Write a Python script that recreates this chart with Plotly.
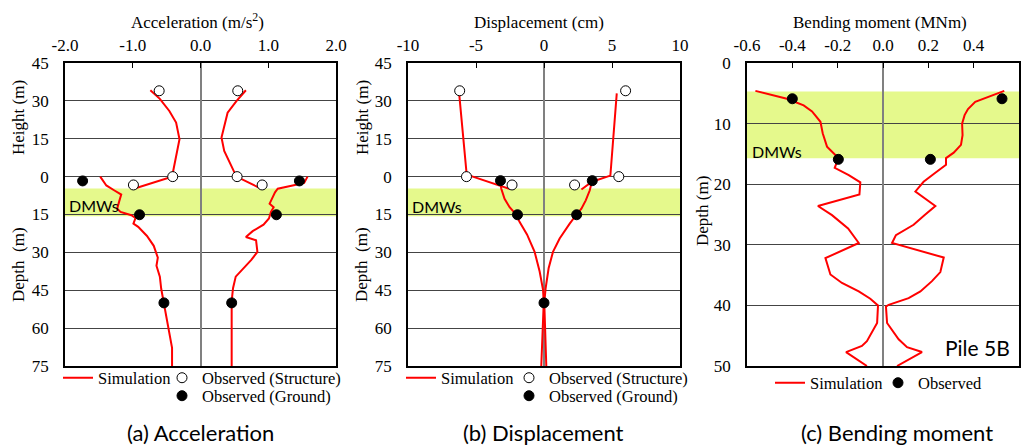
import plotly.graph_objects as go

W, H = 1028, 448

# ---------------- data: (a) acceleration (m/s2) vs height (m, negative = depth) ----------------
acc_str_neg_h = [34.2, 30.8, 26.0, 21.4, 14.8, 12.2, 6.9, 0.0, -4.6]
acc_str_neg_x = [-0.74, -0.60, -0.46, -0.36, -0.31, -0.33, -0.37, -0.42, -0.96]
acc_str_pos_h = [34.2, 29.9, 25.3, 15.5, 10.2, 4.3, 0.0, -4.6]
acc_str_pos_x = [0.67, 0.53, 0.40, 0.31, 0.35, 0.45, 0.53, 0.88]
acc_gnd_neg_h = [0.0, -3.5, -5.5, -7.1, -9.8, -12.7, -14.0, -15.3, -16.4, -18.6, -19.9,
                 -23.5, -27.4, -32.1, -35.3, -39.6, -44.4, -50.1, -56.0, -63.8, -67.8, -75.0]
acc_gnd_neg_x = [-1.48, -1.39, -1.27, -1.17, -1.20, -1.23, -1.18, -1.02, -0.96, -0.99, -0.92,
                 -0.79, -0.69, -0.63, -0.65, -0.60, -0.58, -0.54, -0.50, -0.44, -0.42, -0.42]
acc_gnd_pos_h = [0.0, -2.5, -3.5, -4.8, -6.2, -8.1, -10.7, -12.1, -14.0, -16.6, -19.0,
                 -21.6, -23.9, -25.2, -29.8, -33.0, -36.6, -39.6, -44.2, -49.4, -75.0]
acc_gnd_pos_x = [1.58, 1.53, 1.36, 1.14, 1.10, 1.07, 1.02, 1.08, 1.04, 1.01, 0.93,
                 0.77, 0.67, 0.82, 0.84, 0.75, 0.62, 0.52, 0.48, 0.46, 0.46]
acc_obs_str_h = [34.0, 34.0, 0.0, 0.0, -3.3, -3.3]
acc_obs_str_x = [-0.61, 0.55, -0.41, 0.54, -0.99, 0.91]
acc_obs_gnd_h = [-1.7, -1.7, -15.1, -15.1, -50.0, -50.0]
acc_obs_gnd_x = [-1.74, 1.46, -0.90, 1.12, -0.54, 0.46]

# ---------------- data: (b) displacement (cm) ----------------
dis_str_neg_h = [33.0, 1.1, 0.4, -4.9]
dis_str_neg_x = [-6.24, -5.69, -5.45, -2.50]
dis_str_pos_h = [33.0, 0.4, -2.0, -5.1]
dis_str_pos_x = [5.35, 4.88, 3.53, 2.75]
dis_gnd_neg_h = [-2.0, -4.8, -8.8, -12.1, -14.7, -18.0, -22.9, -29.8, -37.6, -44.8, -49.9, -62.5, -75.0]
dis_gnd_neg_x = [-3.21, -3.14, -2.90, -2.53, -2.09, -1.79, -1.25, -0.69, -0.32, -0.07, -0.02, -0.12, -0.20]
dis_gnd_pos_h = [-2.9, -5.5, -9.4, -12.7, -15.1, -18.6, -24.5, -29.8, -36.3, -44.2, -49.9, -62.5, -75.0]
dis_gnd_pos_x = [3.48, 3.36, 3.07, 2.75, 2.38, 1.89, 1.15, 0.66, 0.34, 0.12, 0.02, 0.07, 0.17]
dis_obs_str_h = [34.0, 34.0, 0.0, 0.0, -3.3, -3.3]
dis_obs_str_x = [-6.2, 6.0, -5.7, 5.5, -2.35, 2.25]
dis_obs_gnd_h = [-1.6, -1.6, -15.1, -15.1, -50.0]
dis_obs_gnd_x = [-3.2, 3.55, -1.95, 2.4, 0.0]

# ---------------- data: (c) bending moment (MNm) vs depth (m) ----------------
bm_neg_d = [4.6, 5.3, 5.9, 7.0, 8.0, 9.7, 11.6, 13.8, 15.2, 16.3, 17.3, 18.5, 19.7, 21.7, 23.6,
            25.1, 26.2, 27.3, 29.7, 32.2, 34.9, 36.3, 37.7, 38.9, 40.0, 42.9, 45.9, 46.7, 47.7, 48.9, 50.0]
bm_neg_x = [-0.563, -0.482, -0.424, -0.350, -0.313, -0.276, -0.266, -0.247, -0.210, -0.203, -0.213,
            -0.151, -0.100, -0.104, -0.287, -0.225, -0.188, -0.154, -0.107, -0.254, -0.232, -0.181,
            -0.107, -0.056, -0.022, -0.026, -0.071, -0.093, -0.163, -0.115, -0.071]
bm_pos_d = [4.6, 5.8, 6.4, 7.6, 8.6, 10.0, 11.9, 13.5, 14.8, 15.7, 16.8, 18.2, 19.6, 21.2, 23.6,
            25.1, 26.7, 28.4, 29.7, 32.1, 34.5, 36.0, 37.7, 38.8, 39.9, 40.2, 42.9, 45.6, 46.9, 47.7, 49.1, 50.0]
bm_pos_x = [0.535, 0.451, 0.407, 0.375, 0.360, 0.349, 0.351, 0.344, 0.312, 0.278, 0.278, 0.228,
            0.179, 0.143, 0.231, 0.184, 0.135, 0.057, 0.040, 0.268, 0.253, 0.216, 0.165, 0.113,
            0.025, 0.013, 0.018, 0.069, 0.106, 0.172, 0.106, 0.062]
bm_obs_d = [5.9, 5.9, 15.9, 15.9]
bm_obs_x = [-0.40, 0.525, -0.197, 0.209]

# DMWs layer (depth, m)
dmw_top, dmw_bot = 4.7, 15.7

# tick labels
acc_ticks = [-2, -1, 0, 1, 2]
acc_ticktext = ["-2.0", "-1.0", "0.0", "1.0", "2.0"]
dis_ticks = [-10, -5, 0, 5, 10]
dis_ticktext = ["-10", "-5", "0", "5", "10"]
bm_ticks = [-0.6, -0.4, -0.2, 0.0, 0.2, 0.4, 0.6]
bm_ticktext = ["-0.6", "-0.4", "-0.2", "0.0", "0.2", "0.4", "0.6"]
h_ticks = [45, 30, 15, 0, -15, -30, -45, -60, -75]
h_ticktext = ["45", "30", "15", "0", "15", "30", "45", "60", "75"]
d_ticks = [0, 10, 20, 30, 40, 50]
d_ticktext = ["0", "10", "20", "30", "40", "50"]

RED = "#ff0000"
SERIF = "Liberation Serif, Times New Roman, Tinos, DejaVu Serif, serif"
SANS = "Lato"
BAND = "#e5f98c"

def px(p):
    return p / W

def py(p):
    return 1 - p / H

fig = go.Figure()

def add_panel(lines, obs_str, obs_gnd, xa, ya, leg_sim, leg_str, leg_gnd,
              gnd_name="Observed (Ground)"):
    for i, (xs, ys) in enumerate(lines):
        fig.add_trace(go.Scatter(x=xs, y=ys, mode="lines", line=dict(color=RED, width=2),
                                 name="Simulation", showlegend=(i == 0), legend=leg_sim,
                                 xaxis=xa, yaxis=ya, hoverinfo="skip"))
    if obs_str is not None:
        fig.add_trace(go.Scatter(x=obs_str[0], y=obs_str[1], mode="markers",
                                 marker=dict(symbol="circle", size=10, color="white",
                                             line=dict(color="black", width=1)),
                                 name="Observed (Structure)", legend=leg_str,
                                 xaxis=xa, yaxis=ya, hoverinfo="skip"))
    fig.add_trace(go.Scatter(x=obs_gnd[0], y=obs_gnd[1], mode="markers",
                             marker=dict(symbol="circle", size=10, color="black",
                                         line=dict(color="black", width=1)),
                             name=gnd_name, legend=leg_gnd,
                             xaxis=xa, yaxis=ya, hoverinfo="skip"))

add_panel([(acc_str_neg_x, acc_str_neg_h), (acc_str_pos_x, acc_str_pos_h),
           (acc_gnd_neg_x, acc_gnd_neg_h), (acc_gnd_pos_x, acc_gnd_pos_h)],
          (acc_obs_str_x, acc_obs_str_h), (acc_obs_gnd_x, acc_obs_gnd_h),
          "x", "y", "legend", "legend2", "legend3")
add_panel([(dis_str_neg_x, dis_str_neg_h), (dis_str_pos_x, dis_str_pos_h),
           (dis_gnd_neg_x, dis_gnd_neg_h), (dis_gnd_pos_x, dis_gnd_pos_h)],
          (dis_obs_str_x, dis_obs_str_h), (dis_obs_gnd_x, dis_obs_gnd_h),
          "x2", "y2", "legend4", "legend5", "legend6")
add_panel([(bm_neg_x, bm_neg_d), (bm_pos_x, bm_pos_d)],
          None, (bm_obs_x, bm_obs_d), "x3", "y3", "legend7", None, "legend8",
          gnd_name="Observed")

tickfont = dict(family=SERIF, size=17, color="black")

def xaxis(dom, rng, tv, tt, anchor):
    return dict(domain=[px(dom[0]), px(dom[1])], range=rng, side="top", anchor=anchor,
                tickmode="array", tickvals=tv, ticktext=tt, ticks="inside", ticklen=5,
                tickwidth=1, tickcolor="black", showline=True, mirror=True,
                linecolor="black", linewidth=1.5, showgrid=False, zeroline=True,
                zerolinecolor="#808080", zerolinewidth=1.8, tickfont=tickfont,
                ticklabelstandoff=3, fixedrange=True)

def yaxis(rng, tv, tt, anchor):
    return dict(domain=[py(366), py(63)], range=rng, anchor=anchor, tickmode="array",
                tickvals=tv, ticktext=tt, ticks="", showline=True, mirror=True,
                linecolor="black", linewidth=1.5, showgrid=True, gridcolor="#444444",
                gridwidth=1, zeroline=False, tickfont=tickfont, ticklabelstandoff=11,
                fixedrange=True)

legend_common = dict(orientation="v", bgcolor="rgba(0,0,0,0)", borderwidth=0,
                     font=dict(family=SERIF, size=16.5, color="black"),
                     xanchor="left", yanchor="middle", itemwidth=30)

shapes = []
for xr, yr, y0, y1 in [("x", "y", -dmw_top, -dmw_bot), ("x2", "y2", -dmw_top, -dmw_bot),
                       ("x3", "y3", dmw_top, dmw_bot)]:
    shapes.append(dict(type="rect", xref=xr + " domain", yref=yr, x0=0, x1=1, y0=y0, y1=y1,
                       fillcolor=BAND, line=dict(width=0), layer="below"))

serif_ann = dict(family=SERIF, size=17, color="black")
ann = []
def add_ann(text, x, y, font, xanchor="center", angle=0):
    ann.append(dict(text=text, x=px(x), y=py(y), xref="paper", yref="paper",
                    showarrow=False, font=font, xanchor=xanchor, yanchor="middle",
                    textangle=angle))

add_ann("Acceleration (m/s<sup>2</sup>)", 197, 21, serif_ann)
add_ann("Displacement (cm)", 539, 22, serif_ann)
add_ann("Bending moment (MNm)", 880, 22, serif_ann)
add_ann("Height (m)", 18, 118, serif_ann, angle=-90)
add_ann("Depth\u00a0\u00a0(m)", 18, 265, serif_ann, angle=-90)
add_ann("Height (m)", 362, 118, serif_ann, angle=-90)
add_ann("Depth\u00a0\u00a0(m)", 361, 265, serif_ann, angle=-90)
add_ann("Depth (m)", 703, 211, serif_ann, angle=-90)
dmw_font = dict(family=SANS, size=16, color="black")
add_ann("DMWs", 67, 205, dmw_font, xanchor="left")
add_ann("DMWs", 410, 206, dmw_font, xanchor="left")
add_ann("DMWs", 750, 151, dmw_font, xanchor="left")
add_ann("Pile 5B", 1012, 347, dict(family=SANS, size=21, color="black"), xanchor="right")
cap_font = dict(family=SANS, size=22, color="black")
add_ann("(a) Acceleration", 200, 432, cap_font)
add_ann("(b) Displacement", 543, 432, cap_font)
add_ann("(c) Bending moment", 897, 432, cap_font)

fig.update_layout(
    width=W, height=H, autosize=False,
    margin=dict(l=0, r=0, t=0, b=0, pad=0),
    template="none",
    paper_bgcolor="white", plot_bgcolor="white",
    font=dict(family=SERIF, size=17, color="black"),
    xaxis=xaxis((65, 336), [-2, 2], acc_ticks, acc_ticktext, "y"),
    yaxis=yaxis([-75, 45], h_ticks, h_ticktext, "x"),
    xaxis2=xaxis((408, 680), [-10, 10], dis_ticks, dis_ticktext, "y2"),
    yaxis2=yaxis([-75, 45], h_ticks, h_ticktext, "x2"),
    xaxis3=xaxis((747, 1019), [-0.6, 0.6], bm_ticks, bm_ticktext, "y3"),
    yaxis3=yaxis([50, 0], d_ticks, d_ticktext, "x3"),
    legend=dict(legend_common, x=px(58), y=py(378)),
    legend2=dict(legend_common, x=px(162), y=py(378)),
    legend3=dict(legend_common, x=px(162), y=py(396)),
    legend4=dict(legend_common, x=px(401), y=py(378)),
    legend5=dict(legend_common, x=px(509), y=py(378)),
    legend6=dict(legend_common, x=px(509), y=py(396)),
    legend7=dict(legend_common, x=px(770), y=py(383)),
    legend8=dict(legend_common, x=px(878), y=py(383)),
    shapes=shapes,
    annotations=ann,
    showlegend=True,
    hovermode=False,
)

fig.write_html("out.html")
